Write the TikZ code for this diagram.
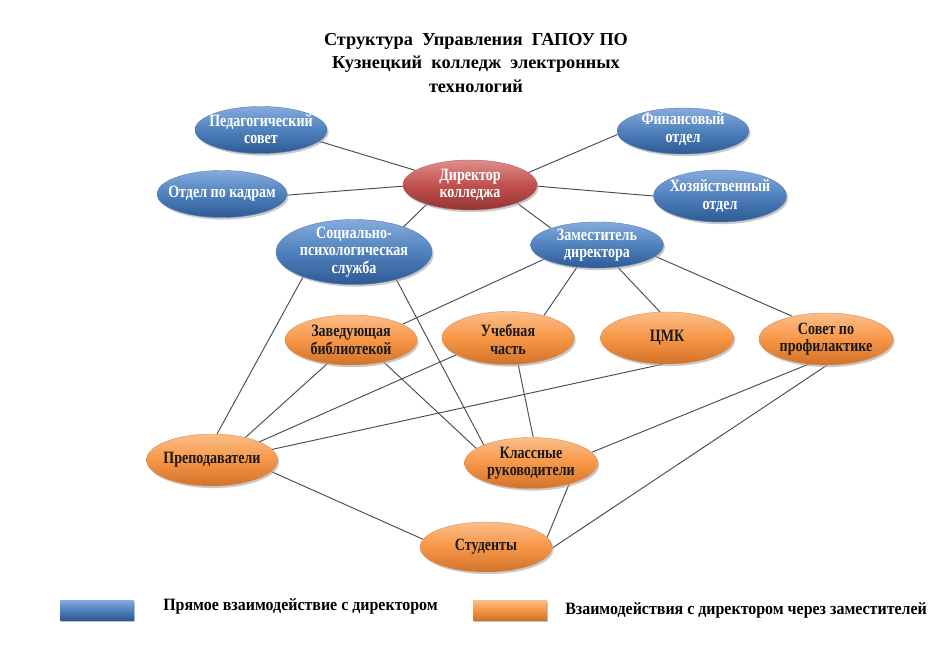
\documentclass[tikz,border=0pt]{standalone}
\usepackage{fontspec}
\setmainfont{Liberation Serif}
\newfontfamily\cfont[FakeStretch=0.81]{Liberation Serif}
\newfontfamily\lfont[FakeStretch=0.92]{Liberation Serif}
\usetikzlibrary{shapes.geometric,shadows,backgrounds}
\definecolor{bluetop}{HTML}{86ABDD}
\definecolor{bluemid}{HTML}{4F81BD}
\definecolor{bluebot}{HTML}{2E5A94}
\definecolor{redtop}{HTML}{DE8F8D}
\definecolor{redmid}{HTML}{C0504D}
\definecolor{redbot}{HTML}{943634}
\definecolor{ortop}{HTML}{FBBE8A}
\definecolor{ormid}{HTML}{F79646}
\definecolor{orbot}{HTML}{D0722A}
\definecolor{linegray}{HTML}{4A4A4A}
\tikzset{
  base/.style={ellipse, inner sep=0pt,
    drop shadow={shadow xshift=1.2pt, shadow yshift=-1.6pt, fill=black!35, opacity=0.6}},
  bluenode/.style={base, top color=bluetop, bottom color=bluebot, middle color=bluemid, draw=bluebot!80, line width=0.3pt},
  rednode/.style={base, top color=redtop, bottom color=redbot, middle color=redmid, draw=redbot!80, line width=0.3pt},
  ornode/.style={base, top color=ortop, bottom color=orbot, middle color=ormid, draw=orbot!80, line width=0.3pt},
  ntext/.style={align=center, inner sep=0pt, font=\cfont\bfseries\fontsize{13}{13}\selectfont},
  wtext/.style={ntext, text=white},
  btext/.style={ntext, text=black!90},
  link/.style={draw=linegray, line width=0.7pt},
  legendbox/.style={rectangle, inner sep=0pt, minimum width=55.5pt, minimum height=15pt,
    drop shadow={shadow xshift=1pt, shadow yshift=-1.5pt, fill=black!40, opacity=0.6}},
  legendtext/.style={anchor=west, inner sep=0pt, font=\lfont\bfseries\fontsize{13}{15}\selectfont},
  titletext/.style={align=center, inner sep=0pt, font=\bfseries\fontsize{13.7}{17.6}\selectfont}
}
\begin{document}
\begin{tikzpicture}[x=0.75pt,y=-0.75pt]
\useasboundingbox (0,0) rectangle (952,645);
\node[titletext] (title) at (476,63) {Структура\ \ Управления\ \ ГАПОУ\ ПО\\Кузнецкий\ \ колледж\ \ электронных\\технологий};

% ellipses
\node[rednode, minimum width=100.5pt, minimum height=37.5pt] (dir) at (470,185) {};
\node[bluenode, minimum width=99pt, minimum height=35.25pt] (ped) at (261,130) {};
\node[bluenode, minimum width=99pt, minimum height=34.5pt] (fin) at (683,131) {};
\node[bluenode, minimum width=97.5pt, minimum height=35.25pt] (kad) at (222,194) {};
\node[bluenode, minimum width=99.75pt, minimum height=39pt] (hoz) at (720,196) {};
\node[bluenode, minimum width=117pt, minimum height=48.75pt] (soc) at (354,252) {};
\node[bluenode, minimum width=99.75pt, minimum height=34.5pt] (zam) at (597,245) {};
\node[ornode, minimum width=99pt, minimum height=37.5pt] (bib) at (351,340) {};
\node[ornode, minimum width=99pt, minimum height=39.75pt] (uch) at (508,338) {};
\node[ornode, minimum width=99.75pt, minimum height=39pt] (cmk) at (667,338) {};
\node[ornode, minimum width=100.5pt, minimum height=39pt] (sov) at (826,339) {};
\node[ornode, minimum width=98.25pt, minimum height=39pt] (pre) at (212,460) {};
\node[ornode, minimum width=99.75pt, minimum height=38.25pt] (kla) at (531,463) {};
\node[ornode, minimum width=99pt, minimum height=37.5pt] (stu) at (486,547) {};

% texts
\node[wtext] (dirT) at (dir) {Директор\\колледжа};
\node[wtext] (pedT) at ([yshift=0.5pt]ped.center) {Педагогический\\совет};
\node[wtext] (finT) at ([yshift=1.5pt]fin.center) {Финансовый\\отдел};
\node[wtext] (kadT) at (kad) {Отдел по кадрам};
\node[wtext] (hozT) at (hoz) {Хозяйственный\\отдел};
\node[wtext] (socT) at (soc) {Социально-\\психологическая\\служба};
\node[wtext] (zamT) at (zam) {Заместитель\\директора};
\node[btext] (bibT) at (bib) {Заведующая\\библиотекой};
\node[btext] (uchT) at ([yshift=-1pt]uch.center) {Учебная\\часть};
\node[btext] (cmkT) at (cmk) {ЦМК};
\node[btext] (sovT) at (sov) {Совет по\\профилактике};
\node[btext] (preT) at (pre) {Преподаватели};
\node[btext] (klaT) at (kla) {Классные\\руководители};
\node[btext] (stuT) at (stu) {Студенты};

% connectors
\begin{scope}[on background layer]
\draw[link] (ped.-11) -- (dir.165);
\draw[link] (kad.-1) -- (dir.181);
\draw[link] (fin.183.5) -- (dir.12.6);
\draw[link] (dir.-1) -- (hoz.180);
\draw[link] (dir.204.5) -- (soc.27);
\draw[link] (dir.-21.8) -- (zam.160.5);
\draw[link] (zam.195.8) -- (bib.17.5);
\draw[link] (zam.228) -- (uch.32);
\draw[link] (zam.-47) -- (cmk.105);
\draw[link] (zam.-11.3) -- (sov.146.7);
\draw[link] (soc.206) -- (pre.79.5);
\draw[link] (soc.-33) -- (kla.159.6);
\draw[link] (bib.225) -- (pre.34.5);
\draw[link] (bib.-34.5) -- (kla.165.5);
\draw[link] (uch.198.4) -- (pre.21.6);
\draw[link] (uch.-69.7) -- (kla.85.4);
\draw[link] (cmk.261.6) -- (pre.10.4);
\draw[link] (sov.235) -- (kla.10.2);
\draw[link] (sov.-88) -- (stu.-1);
\draw[link] (pre.-11) -- (stu.173.8);
\draw[link] (kla.-29.7) -- (stu.9.3);
\end{scope}

% legend
\node[legendbox, top color=bluetop, bottom color=bluebot, middle color=bluemid] (lblue) at (97,610) {};
\node[legendtext] (lbluet) at (163,606) {Прямое взаимодействие с директором};
\node[legendbox, top color=ortop, bottom color=orbot, middle color=ormid] (lor) at (510,610) {};
\node[legendtext] (lort) at (565,610) {Взаимодействия с директором через заместителей};
\end{tikzpicture}
\end{document}
